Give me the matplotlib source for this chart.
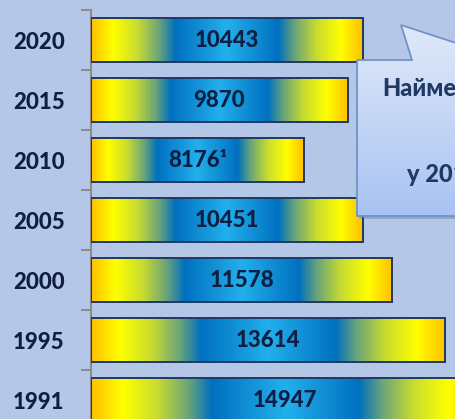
import numpy as np
import matplotlib
matplotlib.use("Agg")
import matplotlib.pyplot as plt
from matplotlib.colors import LinearSegmentedColormap
from matplotlib.patches import Polygon

# ---- data ----
years  = ["2020", "2015", "2010", "2005", "2000", "1995", "1991"]
values = [10443, 9870, 8176, 10451, 11578, 13614, 14947]
labels = ["10443", "9870", "8176¹", "10451", "11578", "13614", "14947"]
note_lines = ["Найменша", "у 2010 р."]

BG = "#B4C7E7"
NAVY = "#0F1E42"
GRAY = "#8C8C8C"

plt.rcParams["font.family"] = ["Lato", "DejaVu Sans"]

# gold -> yellow -> green -> blue -> cyan -> blue -> green -> yellow -> gold
grad = LinearSegmentedColormap.from_list("bar", [
    (0.00, "#FFC000"), (0.08, "#FFFF00"), (0.17, "#C8DC30"), (0.25, "#6AA47A"),
    (0.31, "#0070C0"), (0.50, "#22B0EC"), (0.69, "#0070C0"), (0.75, "#6AA47A"),
    (0.83, "#C8DC30"), (0.92, "#FFFF00"), (1.00, "#FFC000")])

W, H = 456, 419
fig = plt.figure(figsize=(W / 100, H / 100), dpi=100, facecolor=BG)

# main axes: spans past the bottom edge (picture is cropped)
ax = fig.add_axes([91 / W, (H - 430) / H, 1 - 91 / W, 420 / H])
ax.set_facecolor(BG)
n = len(years)
pos = np.arange(n)
bar_h = 0.72
xmax = 14030

g = np.linspace(0, 1, 256).reshape(1, -1)
for i, (v, lab) in enumerate(zip(values, labels)):
    ax.imshow(g, cmap=grad, aspect="auto", interpolation="bilinear",
              extent=(0, v, i + bar_h / 2, i - bar_h / 2), zorder=2)
    ax.barh(i, v, height=bar_h, facecolor="none", edgecolor="#1F3864",
            linewidth=1.4, zorder=3)
    ax.text(v / 2, i, lab, ha="center", va="center", fontsize=16,
            fontweight="black", color=NAVY, zorder=4)
ax.set_xlim(0, xmax)
ax.set_ylim(n - 0.5, -0.5)

for s in ["top", "right", "bottom"]:
    ax.spines[s].set_visible(False)
ax.spines["left"].set_color(GRAY)
ax.spines["left"].set_linewidth(1.5)
ax.set_xticks([])
ax.set_yticks(np.arange(n + 1) - 0.5)
ax.set_yticklabels([])
ax.tick_params(axis="y", which="major", length=7, width=1.5, color=GRAY)
ax.set_yticks(pos, minor=True)
ax.set_yticklabels(years, minor=True, fontsize=16, fontweight="black", color=NAVY)
ax.tick_params(axis="y", which="minor", length=0, pad=19)

# ---- callout bubble (pixel coordinates, y down) ----
ov = fig.add_axes([0, 0, 1, 1], facecolor="none")
shape = [(357, 60), (412, 60), (401, 25), (508, 60), (620, 60), (620, 216), (357, 216)]
shadow = Polygon([(x + 2, y + 3) for x, y in shape], closed=True,
                 facecolor="#5A6E90", edgecolor="none", alpha=0.35, zorder=1)
ov.add_patch(shadow)
bubble = Polygon(shape, closed=True, facecolor="none", edgecolor="#6F93C8",
                 linewidth=1.3, zorder=3)
ov.add_patch(bubble)
vg = LinearSegmentedColormap.from_list("bub", ["#E0E9F9", "#A8C3F2"])
im = ov.imshow(np.linspace(0, 1, 256).reshape(-1, 1), cmap=vg, aspect="auto",
               extent=(357, 620, 216, 25), zorder=2)
im.set_clip_path(bubble)
ov.set_xlim(0, W)
ov.set_ylim(H, 0)
ov.axis("off")
ov.text(382, 88, note_lines[0], ha="left", va="center", fontsize=17,
        fontweight="black", color="#1F3864", zorder=4)
ov.text(407, 174, note_lines[1], ha="left", va="center", fontsize=17,
        fontweight="black", color="#1F3864", zorder=4)

fig.savefig("out.png", dpi=100, facecolor=BG)
